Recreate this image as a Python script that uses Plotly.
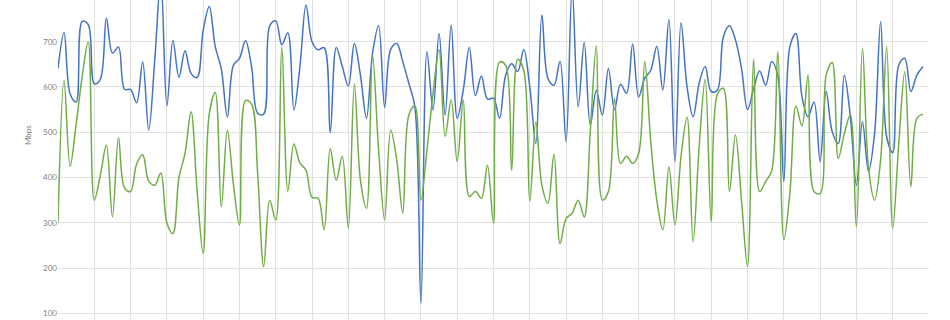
import plotly.graph_objects as go

# sample index (10-minute slots, 144 per day)
samples = list(range(144))

blue_mbps = [
    641, 720, 585, 567, 745, 738, 607, 617, 752, 675,
    688, 595, 594, 565, 655, 505, 660, 840, 558, 702,
    621, 680, 630, 621, 725, 778, 689, 640, 534, 648,
    663, 702, 645, 542, 540, 735, 746, 693, 720, 549,
    645, 781, 700, 682, 687, 499, 687, 645, 602, 696,
    626, 531, 674, 735, 555, 683, 696, 656, 608, 556,
    122, 678, 549, 718, 538, 737, 531, 593, 687, 581,
    624, 573, 575, 531, 626, 651, 634, 683, 600, 475,
    759, 619, 604, 657, 479, 820, 556, 698, 516, 592,
    538, 641, 550, 606, 586, 695, 578, 619, 637, 690,
    593, 749, 435, 742, 600, 534, 608, 645, 590, 593,
    711, 735, 704, 641, 550, 596, 635, 604, 656, 625,
    391, 689, 718, 578, 534, 567, 435, 590, 501, 475,
    626, 534, 383, 523, 413, 497, 744, 490, 455, 648,
    663, 590, 626, 645,
]

green_mbps = [
    300, 615, 425, 518, 623, 700, 350, 405, 472, 313,
    488, 377, 369, 430, 450, 392, 383, 410, 300, 276,
    400, 453, 545, 370, 232, 540, 588, 335, 505, 385,
    295, 570, 562, 410, 203, 350, 306, 689, 370, 474,
    432, 416, 356, 354, 285, 464, 394, 447, 288, 606,
    394, 332, 670, 461, 306, 505, 439, 321, 538, 558,
    350, 461, 586, 682, 491, 571, 435, 571, 358, 369,
    354, 427, 299, 655, 648, 416, 661, 637, 347, 523,
    383, 343, 452, 254, 309, 321, 350, 313, 501, 691,
    350, 369, 575, 431, 447, 431, 453, 656, 480, 350,
    284, 424, 295, 446, 533, 258, 468, 617, 302, 583,
    597, 369, 494, 350, 203, 661, 369, 391, 415, 678,
    262, 365, 558, 514, 626, 369, 365, 626, 654, 442,
    497, 538, 291, 685, 420, 350, 439, 689, 288, 475,
    634, 380, 531, 540,
]

y_ticks = [100, 200, 300, 400, 500, 600, 700]
y_title = "Mbps"

W, H = 950, 320
ML, MR = 58, 21
PW = W - ML - MR

fig = go.Figure()
fig.add_trace(go.Scatter(
    x=samples, y=blue_mbps, mode="lines",
    line=dict(color="#4472C4", width=1.5, shape="spline", smoothing=1.0),
    showlegend=False, hoverinfo="skip",
))
fig.add_trace(go.Scatter(
    x=samples, y=green_mbps, mode="lines",
    line=dict(color="#70AD47", width=1.5, shape="spline", smoothing=1.0),
    showlegend=False, hoverinfo="skip",
))

fig.update_layout(
    width=W, height=H,
    margin=dict(l=ML, r=MR, t=0, b=0),
    paper_bgcolor="white", plot_bgcolor="white",
    font=dict(family="Lato, 'Open Sans', sans-serif", color="#7f7f7f", size=8),
    xaxis=dict(
        range=[0, 144], tick0=0, dtick=6, showticklabels=False,
        showgrid=True, gridcolor="#e0e0e0", gridwidth=1,
        zeroline=False, showline=False, ticks="",
    ),
    yaxis=dict(
        range=[85.2, 792.1], tickvals=y_ticks,
        ticktext=[str(v) for v in y_ticks],
        showgrid=True, gridcolor="#e0e0e0", gridwidth=1,
        zeroline=False, showline=False, ticks="",
        tickfont=dict(size=8, color="#7f7f7f"),
    ),
    annotations=[dict(
        text=y_title, xref="paper", yref="paper",
        x=(28 - ML) / PW, y=1 - 135 / H, showarrow=False,
        textangle=-90, font=dict(size=8, color="#7f7f7f"),
        xanchor="center", yanchor="middle",
    )],
)

fig.write_html("out.html")
